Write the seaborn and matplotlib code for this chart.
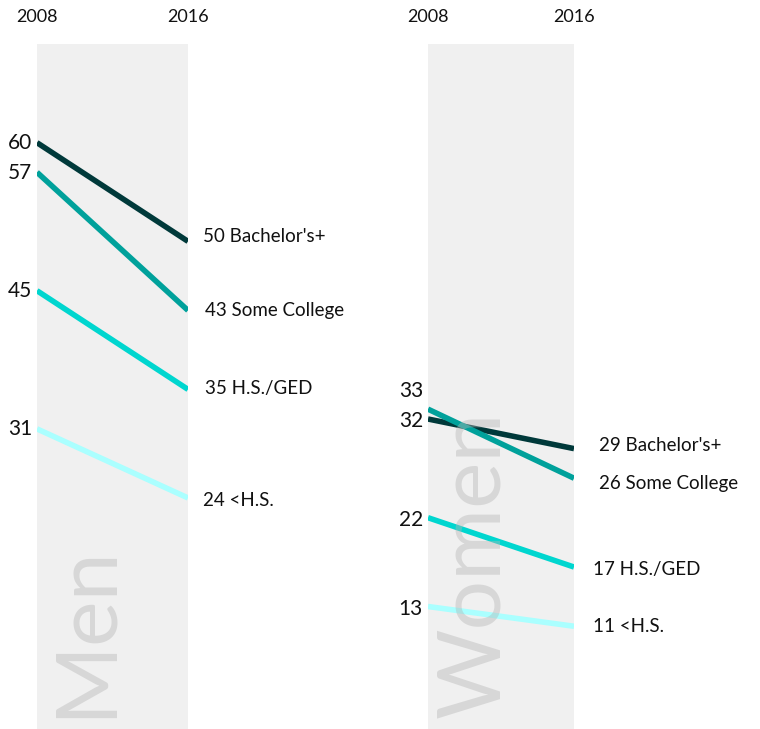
import matplotlib
matplotlib.use("Agg")
import matplotlib.pyplot as plt
import matplotlib.transforms as mtransforms
import seaborn as sns
import pandas as pd

years = [2008, 2016]
groups = ["Bachelor's+", "Some College", "H.S./GED", "<H.S."]
men_2008 = [60, 57, 45, 31]
men_2016 = [50, 43, 35, 24]
women_2008 = [32, 33, 22, 13]
women_2016 = [29, 26, 17, 11]
colors = ["#00393a", "#00a19b", "#00d6cf", "#aaffff"]

sns.set_theme(style="white")
plt.rcParams['font.family'] = ['Lato', 'DejaVu Sans']

W, H = 760, 729
fig = plt.figure(figsize=(W / 100, H / 100), dpi=100)


def make_df(v08, v16):
    rows = []
    for g, a, b in zip(groups, v08, v16):
        rows.append({"year": years[0], "group": g, "value": a})
        rows.append({"year": years[1], "group": g, "value": b})
    return pd.DataFrame(rows)


def panel(left, right, v08, v16, title, title_size, left_offsets, right_offsets):
    bottom_px, top_px = 734.8, 44
    h_px = bottom_px - top_px
    ax = fig.add_axes([left / W, 1 - bottom_px / H, (right - left) / W, h_px / H])
    ax.set_facecolor("#f0f0f0")
    df = make_df(v08, v16)
    sns.lineplot(data=df, x="year", y="value", hue="group", hue_order=groups,
                 palette=colors, linewidth=4, legend=False, ax=ax,
                 solid_capstyle="butt", zorder=3)
    ax.set_xlim(years[0], years[1])
    ax.set_ylim(0, 70)
    ax.set_xticks([])
    ax.set_yticks([])
    ax.set_xlabel("")
    ax.set_ylabel("")
    for s in ax.spines.values():
        s.set_visible(False)
    # big rotated title, drawn over the lines semi-transparently
    ax.text(0.32, 17 / h_px, title, transform=ax.transAxes, rotation=90,
            ha="center", va="bottom", fontsize=title_size, color="#b5b5b5",
            alpha=0.42, zorder=5, clip_on=False)
    # year labels
    trans = mtransforms.blended_transform_factory(ax.transData, ax.transAxes)
    for yv in years:
        ax.text(yv, 1 + 27 / h_px, str(yv), transform=trans,
                ha="center", va="center", fontsize=13, color="#111111")
    # value labels
    for g, a, b, lo, ro in zip(groups, v08, v16, left_offsets, right_offsets):
        ax.annotate(f"{a}", xy=(years[0], a), xytext=(-5, lo),
                    textcoords="offset pixels", ha="right", va="center",
                    fontsize=15, color="#111111", annotation_clip=False)
        ax.annotate(f"{b} {g}", xy=(years[1], b), xytext=(ro[0], ro[1]),
                    textcoords="offset pixels", ha="left", va="center",
                    fontsize=13.5, color="#111111", annotation_clip=False)
    return ax


panel(37, 188, men_2008, men_2016, "Men", 62,
      [0, -1, 0, 0],
      [(15, 5), (17, 0), (17, 1), (15, -3)])
panel(428, 574, women_2008, women_2016, "Women", 63,
      [-2, 18, -2, -2],
      [(25, 3), (25, -5), (19, -2), (19, 0)])

fig.savefig("out.png", dpi=100)
